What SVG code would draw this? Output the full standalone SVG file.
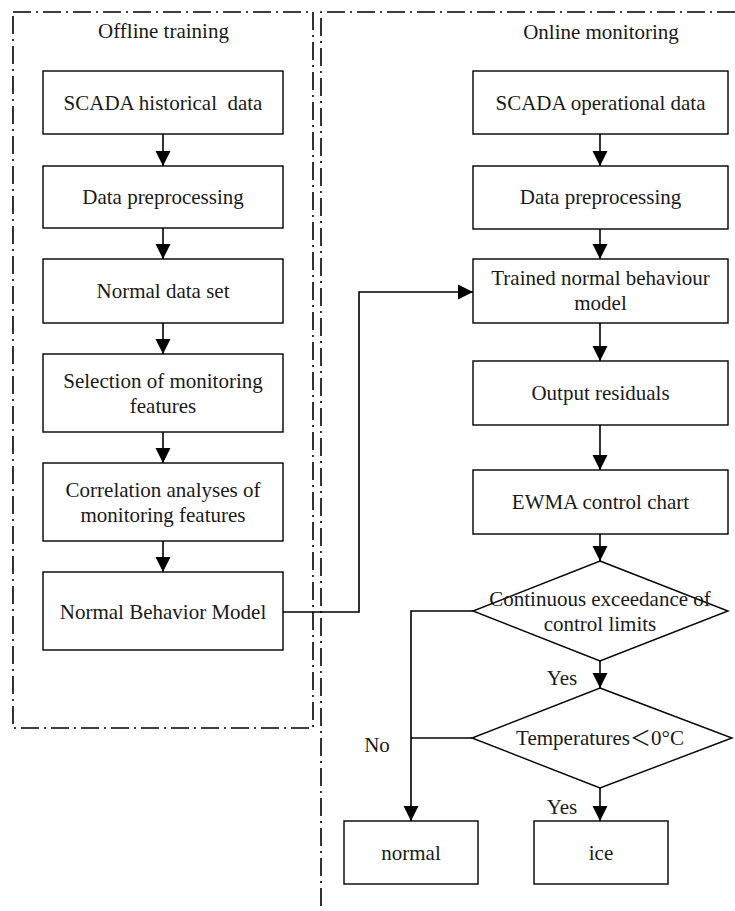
<svg xmlns="http://www.w3.org/2000/svg" width="735" height="911" viewBox="0 0 735 911">
<style>
.frame{fill:none;stroke:#000;stroke-width:1.6;stroke-dasharray:18 5 2 5}
.box{fill:#fff;stroke:#000;stroke-width:1.4}
.t{font-family:"Liberation Serif","Noto Sans CJK SC",serif;font-size:21px;fill:#1a1a1a;text-anchor:middle;white-space:pre}
.c{fill:none;stroke:#000;stroke-width:1.6}
</style>
<defs>
<marker id="ah" markerUnits="userSpaceOnUse" markerWidth="16" markerHeight="16" viewBox="0 0 16 16" refX="15" refY="8" orient="auto">
<path d="M0,0.5 L15,8 L0,15.5 Z" fill="#000"/>
</marker>
</defs>
<g id="offline-frame">
<rect class="frame" x="13" y="12" width="300" height="716"/>
<text class="t" x="163.5" y="38">Offline training</text>
</g>
<g id="online-frame">
<path class="frame" d="M735,12 H321 V908"/>
<text class="t" x="601" y="39">Online monitoring</text>
</g>
<g id="connectors">
<path class="c" d="M163,134 V166" marker-end="url(#ah)"/>
<path class="c" d="M163,228 V259" marker-end="url(#ah)"/>
<path class="c" d="M163,323 V354" marker-end="url(#ah)"/>
<path class="c" d="M163,432 V463" marker-end="url(#ah)"/>
<path class="c" d="M163,541 V572" marker-end="url(#ah)"/>
<path class="c" d="M600,134 V166" marker-end="url(#ah)"/>
<path class="c" d="M600,229 V259" marker-end="url(#ah)"/>
<path class="c" d="M600,323 V361" marker-end="url(#ah)"/>
<path class="c" d="M600,425 V470" marker-end="url(#ah)"/>
<path class="c" d="M600,534 V561" marker-end="url(#ah)"/>
<path class="c" d="M600,661 V688" marker-end="url(#ah)"/>
<path class="c" d="M600,788 V821" marker-end="url(#ah)"/>
<path class="c" d="M283,612 H359 V292 H473" marker-end="url(#ah)"/>
<path class="c" d="M473,611 H411 V821" marker-end="url(#ah)"/>
<path class="c" d="M472,738 H411"/>
<text class="t" x="562" y="685">Yes</text>
<text class="t" x="562" y="814">Yes</text>
<text class="t" x="377" y="752">No</text>
</g>
<g id="n1"><rect class="box" x="43" y="71" width="240" height="63"/><text class="t" x="163" y="110" xml:space="preserve">SCADA historical  data</text></g>
<g id="n2"><rect class="box" x="43" y="166" width="240" height="62"/><text class="t" x="163" y="204">Data preprocessing</text></g>
<g id="n3"><rect class="box" x="43" y="259" width="240" height="64"/><text class="t" x="163" y="298">Normal data set</text></g>
<g id="n4"><rect class="box" x="43" y="354" width="240" height="78"/><text class="t" x="163" y="388">Selection of monitoring</text><text class="t" x="163" y="413">features</text></g>
<g id="n5"><rect class="box" x="43" y="463" width="240" height="78"/><text class="t" x="163" y="497">Correlation analyses of</text><text class="t" x="163" y="522">monitoring features</text></g>
<g id="n6"><rect class="box" x="43" y="572" width="240" height="78"/><text class="t" x="163" y="619">Normal Behavior Model</text></g>
<g id="r1"><rect class="box" x="473" y="71" width="255" height="63"/><text class="t" x="600.5" y="110">SCADA operational data</text></g>
<g id="r2"><rect class="box" x="473" y="166" width="255" height="63"/><text class="t" x="600.5" y="204">Data preprocessing</text></g>
<g id="r3"><rect class="box" x="473" y="259" width="255" height="64"/><text class="t" x="600.5" y="285">Trained normal behaviour</text><text class="t" x="600.5" y="310">model</text></g>
<g id="r4"><rect class="box" x="473" y="361" width="255" height="64"/><text class="t" x="600.5" y="400">Output residuals</text></g>
<g id="r5"><rect class="box" x="473" y="470" width="255" height="64"/><text class="t" x="600.5" y="509">EWMA control chart</text></g>
<g id="d1"><path class="box" style="fill:none" d="M600,561 L728,611 L600,661 L473,611 Z"/><text class="t" x="600" y="606">Continuous exceedance of</text><text class="t" x="600" y="631">control limits</text></g>
<g id="d2"><path class="box" style="fill:none" d="M600,688 L732,738 L600,788 L472,738 Z"/><text class="t" x="600" y="745">Temperatures＜0°C</text></g>
<g id="normal"><rect class="box" x="344" y="821" width="134" height="63"/><text class="t" x="411" y="860">normal</text></g>
<g id="ice"><rect class="box" x="534" y="821" width="134" height="63"/><text class="t" x="601" y="860">ice</text></g>
</svg>
